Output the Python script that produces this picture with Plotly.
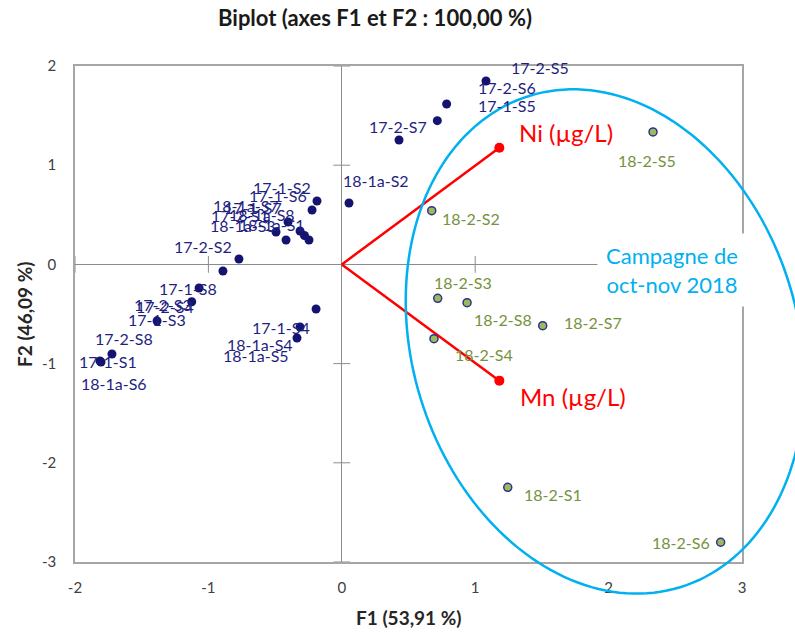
import math
import plotly.graph_objects as go

# ---------------- data ----------------
obs_names = ["17-2-S5", "17-2-S6", "17-1-S5", "17-2-S7", "18-1a-S2",
             "17-1-S2", "17-1-S6", "17-1-S7", "18-1a-S7", "17-2-S1",
             "18-1a-S8", "18-1a-S3", "18-1a-S1", "17-2-S2", "17-2-S4",
             "17-1-S8", "17-2-S3", "17-1-S3", "17-2-S8", "17-1-S1",
             "18-1a-S6", "17-1-S4", "18-1a-S4", "18-1a-S5"]
obs_f1 = [1.081, 0.786, 0.716, 0.429, 0.054,
          -0.186, -0.223, -0.403, -0.493, -0.418,
          -0.313, -0.280, -0.246, -0.771, -0.891,
          -1.070, -1.125, -1.385, -1.723, -1.813,
          -1.805, -0.193, -0.313, -0.336]
obs_f2 = [1.849, 1.617, 1.449, 1.254, 0.619,
          0.639, 0.548, 0.427, 0.327, 0.246,
          0.337, 0.291, 0.246, 0.054, -0.067,
          -0.238, -0.376, -0.571, -0.903, -0.974,
          -0.984, -0.450, -0.631, -0.742]

camp_names = ["18-2-S5", "18-2-S2", "18-2-S3", "18-2-S8",
              "18-2-S7", "18-2-S4", "18-2-S1", "18-2-S6"]
camp_f1 = [2.333, 0.674, 0.719, 0.939, 1.506, 0.691, 1.244, 2.840]
camp_f2 = [1.335, 0.541, -0.342, -0.386, -0.618, -0.749, -2.247, -2.801]

var_names = ["Ni (µg/L)", "Mn (µg/L)"]
var_f1 = [1.181, 1.181]
var_f2 = [1.176, -1.172]

x_ticks = [-2, -1, 0, 1, 2, 3]
x_ticklabels = ["-2", "-1", "0", "1", "2", "3"]
y_ticks = [-3, -2, -1, 0, 1, 2]
y_ticklabels = ["-3", "-2", "-1", "0", "1", "2"]

title_text = "Biplot (axes F1 et F2 : 100,00 %)"
x_title = "F1 (53,91 %)"
y_title = "F2 (46,09 %)"
group_text = "Campagne de<br>oct-nov 2018"

# ---------------- label placement (pixel offsets) ----------------
obs_offsets = {
    "17-2-S5": (54, -13), "17-2-S6": (60, -16), "17-1-S5": (70, -15),
    "17-2-S7": (-1, -14), "18-1a-S2": (27, -23), "17-1-S2": (-35, -14),
    "17-1-S6": (-34, -15), "17-1-S7": (-35, -15), "18-1a-S7": (-30, -26),
    "17-2-S1": (-46, -25), "18-1a-S8": (-38, -16), "18-1a-S3": (-61, -10),
    "18-1a-S1": (-37, -16), "17-2-S2": (-36, -13), "17-2-S4": (-58, 35),
    "17-1-S8": (-11, 0), "17-2-S3": (-29, 3), "17-1-S3": (0, -2),
    "17-2-S8": (12, -15), "17-1-S1": (8, 0), "18-1a-S6": (13, 21),
    "17-1-S4": (-35, 18), "18-1a-S4": (-40, 17), "18-1a-S5": (-41, 17),
}
camp_offsets = {
    "18-2-S5": (-6, 29), "18-2-S2": (39, 8), "18-2-S3": (25, -16),
    "18-2-S8": (36, 17), "18-2-S7": (50, -3), "18-2-S4": (50, 16),
    "18-2-S1": (45, 7), "18-2-S6": (-40, 0),
}
var_offsets = {"Ni (µg/L)": (67, -15), "Mn (µg/L)": (74, 16)}

# ---------------- layout geometry ----------------
W, H = 795, 632
ML, MR, MT, MB = 75, 53, 66, 70
PW, PH = W - ML - MR, H - MT - MB
XR = [-2, 3]
YR = [-3, 2]

NAVY = "#141470"
GREEN_TXT = "#76923c"
RED = "#ff0000"
CYAN = "#00b0f0"
FONT = "Lato"

fig = go.Figure()

# vectors
for n, vx, vy in zip(var_names, var_f1, var_f2):
    fig.add_trace(go.Scatter(x=[0, vx], y=[0, vy], mode="lines",
                             line=dict(color=RED, width=2.5),
                             hoverinfo="skip", showlegend=False))
fig.add_trace(go.Scatter(x=var_f1, y=var_f2, mode="markers",
                         marker=dict(color=RED, size=10),
                         showlegend=False, hoverinfo="skip"))

# tick crosses on the zero lines
xt = [t for t in x_ticks if t != 0]
yt = [t for t in y_ticks if t != 0]
fig.add_trace(go.Scatter(x=xt, y=[0] * len(xt), mode="markers",
                         marker=dict(symbol="line-ns", size=12,
                                     line=dict(color="#8c8c8c", width=1)),
                         showlegend=False, hoverinfo="skip"))
fig.add_trace(go.Scatter(x=[0] * len(yt), y=yt, mode="markers",
                         marker=dict(symbol="line-ew", size=12,
                                     line=dict(color="#8c8c8c", width=1)),
                         showlegend=False, hoverinfo="skip"))

# observations
fig.add_trace(go.Scatter(x=obs_f1, y=obs_f2, mode="markers", text=obs_names,
                         marker=dict(color=NAVY, size=9),
                         showlegend=False))
fig.add_trace(go.Scatter(x=camp_f1, y=camp_f2, mode="markers", text=camp_names,
                         marker=dict(color="#9bbb59", size=8,
                                     line=dict(color="#2e3192", width=1.5)),
                         showlegend=False))

ann = []
for n, x, y in zip(obs_names, obs_f1, obs_f2):
    dx, dy = obs_offsets[n]
    ann.append(dict(x=x, y=y, xref="x", yref="y", text=n, showarrow=False,
                    xanchor="center", yanchor="middle",
                    xshift=dx, yshift=-dy,
                    font=dict(family=FONT, size=16, color="#1f1f80")))
for n, x, y in zip(camp_names, camp_f1, camp_f2):
    dx, dy = camp_offsets[n]
    ann.append(dict(x=x, y=y, xref="x", yref="y", text=n, showarrow=False,
                    xanchor="center", yanchor="middle",
                    xshift=dx, yshift=-dy,
                    font=dict(family=FONT, size=16, color=GREEN_TXT)))
for n, x, y in zip(var_names, var_f1, var_f2):
    dx, dy = var_offsets[n]
    ann.append(dict(x=x, y=y, xref="x", yref="y", text=n, showarrow=False,
                    xanchor="center", yanchor="middle",
                    xshift=dx, yshift=-dy,
                    font=dict(family=FONT, size=24, color=RED)))

# group label with white box
ann.append(dict(x=(672 - ML) / PW, y=(H - MB - 270) / PH, xref="paper", yref="paper",
                xanchor="center", yanchor="middle",
                text=group_text, showarrow=False, align="center",
                bgcolor="white", borderpad=8,
                font=dict(family=FONT, size=22, color=CYAN)))

# axis titles
ann.append(dict(x=0.5, y=-(617 - (H - MB)) / PH, xref="paper", yref="paper",
                xanchor="center", yanchor="middle",
                text="<b>" + x_title + "</b>", showarrow=False,
                font=dict(family=FONT, size=19, color="#262626")))
ann.append(dict(x=(24 - ML) / PW, y=0.5, xref="paper", yref="paper",
                xanchor="center", yanchor="middle",
                text="<b>" + y_title + "</b>", showarrow=False, textangle=-90,
                font=dict(family=FONT, size=19, color="#262626")))

# ellipse (drawn in paper units so it is not clipped)
ecx, ecy = 1.973, -0.777
ea, eb, ephi = 257.0, 193.0, math.radians(17)
cxp = (ecx - XR[0]) / (XR[1] - XR[0])
cyp = (ecy - YR[0]) / (YR[1] - YR[0])
pts = []
for i in range(181):
    t = 2 * math.pi * i / 180
    dxs = -ea * math.cos(t) * math.sin(ephi) + eb * math.sin(t) * math.cos(ephi)
    dys = -ea * math.cos(t) * math.cos(ephi) - eb * math.sin(t) * math.sin(ephi)
    pts.append((cxp + dxs / PW, cyp - dys / PH))
path = "M " + " L ".join(f"{px:.5f},{py:.5f}" for px, py in pts) + " Z"

fig.update_layout(
    width=W, height=H,
    margin=dict(l=ML, r=MR, t=MT, b=MB),
    paper_bgcolor="white", plot_bgcolor="white",
    title=dict(text="<b>" + title_text + "</b>", x=375 / W, xref="container",
               xanchor="center", y=1 - 18 / H, yanchor="middle",
               font=dict(family=FONT, size=22, color="#1a1a1a")),
    xaxis=dict(range=XR, tickvals=x_ticks, ticktext=x_ticklabels, showgrid=False,
               zeroline=True, zerolinecolor="#8c8c8c", zerolinewidth=1,
               showline=True, linecolor="#a6a6a6", linewidth=1.5, mirror=True,
               ticks="", ticklabelstandoff=11,
               tickfont=dict(family=FONT, size=15, color="#404040")),
    yaxis=dict(range=YR, tickvals=y_ticks, ticktext=y_ticklabels, showgrid=False,
               zeroline=True, zerolinecolor="#8c8c8c", zerolinewidth=1,
               showline=True, linecolor="#a6a6a6", linewidth=1.5, mirror=True,
               ticks="", ticklabelstandoff=14,
               tickfont=dict(family=FONT, size=15, color="#404040")),
    annotations=ann,
    shapes=[dict(type="path", path=path, xref="paper", yref="paper",
                 line=dict(color=CYAN, width=2.5), layer="above")],
)

fig.write_html("out.html")
